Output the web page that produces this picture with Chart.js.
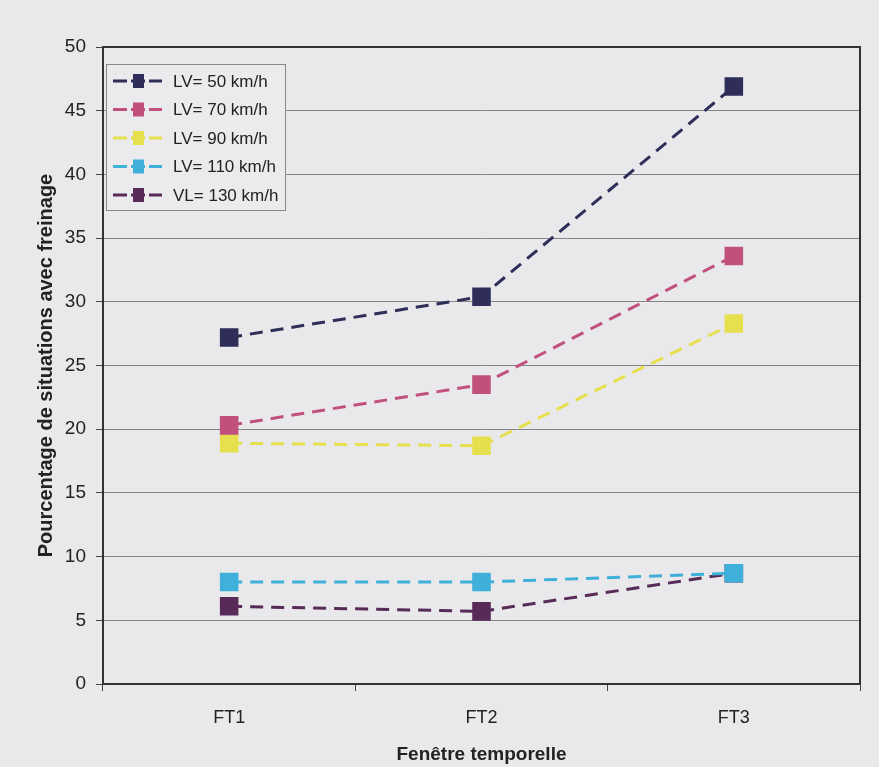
<!DOCTYPE html>
<html>
<head>
<meta charset="utf-8">
<script src="https://cdn.jsdelivr.net/npm/chart.js@4"></script>
<style>
  html, body { margin: 0; padding: 0; background: #e9e9ec; }
  #wrap { width: 879px; height: 767px; }
</style>
</head>
<body>
<div id="wrap"><canvas id="myChart"></canvas></div>
<script>
// categories and series
var windows = ["FT1", "FT2", "FT3"];
var seriesNames = ["LV= 50 km/h", "LV= 70 km/h", "LV= 90 km/h", "LV= 110 km/h", "VL= 130 km/h"];
var lv50 = [27.2, 30.4, 46.9];
var lv70 = [20.3, 23.5, 33.6];
var lv90 = [18.9, 18.7, 28.3];
var lv110 = [8.0, 8.0, 8.7];
var vl130 = [6.1, 5.7, 8.7];
var colors = ["#2e2e58", "#c2507c", "#e6df4e", "#3fb0d9", "#582a58"];
var yTicks = [0, 5, 10, 15, 20, 25, 30, 35, 40, 45, 50];

var FONT = '"Liberation Sans", Arial, sans-serif';

var allData = [lv50, lv70, lv90, lv110, vl130];
var datasets = allData.map(function (d, i) {
  return {
    label: seriesNames[i],
    data: d,
    borderColor: colors[i],
    backgroundColor: colors[i],
    borderWidth: 3,
    borderDash: [13, 8],
    pointStyle: 'rect',
    pointRadius: 11,
    pointHoverRadius: 11,
    tension: 0
  };
});

// page background + frame around the plot
var framePlugin = {
  id: 'frame',
  beforeDraw: function (chart) {
    var c = chart.ctx;
    c.save();
    c.fillStyle = '#e9e9ec';
    c.fillRect(0, 0, chart.width, chart.height);
    c.restore();
  },
  afterDraw: function (chart) {
    var c = chart.ctx, a = chart.chartArea;
    c.save();
    c.strokeStyle = '#333';
    c.lineWidth = 2;
    c.strokeRect(a.left, a.top, a.right - a.left, a.bottom - a.top);
    c.restore();
  }
};

// legend box inside the plot, top left
var boxLegend = {
  id: 'boxLegend',
  afterDraw: function (chart) {
    var c = chart.ctx, a = chart.chartArea;
    var x0 = a.left + 3, y0 = a.top + 17, w = 179, h = 146;
    c.save();
    c.fillStyle = '#ebebee';
    c.fillRect(x0, y0, w, h);
    c.strokeStyle = '#888';
    c.lineWidth = 1;
    c.strokeRect(x0 + 0.5, y0 + 0.5, w, h);
    c.font = '17px ' + FONT;
    c.textBaseline = 'middle';
    chart.data.datasets.forEach(function (ds, i) {
      var y = y0 + 17 + i * 28.5;
      c.strokeStyle = ds.borderColor;
      c.lineWidth = 3;
      c.setLineDash([14, 4]);
      c.beginPath();
      c.moveTo(x0 + 7, y);
      c.lineTo(x0 + 56, y);
      c.stroke();
      c.setLineDash([]);
      c.fillStyle = ds.backgroundColor;
      c.fillRect(x0 + 27, y - 7, 11, 14);
      c.fillStyle = '#222';
      c.fillText(ds.label, x0 + 67, y + 1);
    });
    c.restore();
  }
};

var ctx = document.getElementById("myChart").getContext('2d');
var myChart = new Chart(ctx, {
  type: 'line',
  data: { labels: windows, datasets: datasets },
  plugins: [framePlugin, boxLegend],
  options: {
    responsive: true,
    maintainAspectRatio: false,
    animation: false,
    layout: { padding: { left: 30, top: 47, right: 19, bottom: 0 } },
    plugins: {
      legend: { display: false },
      tooltip: { enabled: false }
    },
    scales: {
      x: {
        offset: true,
        grid: { offset: true, drawOnChartArea: false, drawTicks: true, tickLength: 7, color: '#444' },
        border: { display: false },
        ticks: { color: '#222', padding: 16, font: { size: 18, family: FONT } },
        title: {
          display: true, text: 'Fenêtre temporelle', color: '#222',
          padding: { top: 4, bottom: 1 },
          font: { size: 19, weight: 'bold', family: FONT }
        },
        afterFit: function (s) { s.height = 83; }
      },
      y: {
        min: 0, max: 50,
        afterBuildTicks: function (s) { s.ticks = yTicks.map(function (v) { return { value: v }; }); },
        grid: { color: '#858585', lineWidth: 1, tickLength: 7, tickColor: '#444' },
        border: { display: false },
        ticks: { color: '#222', padding: 10, font: { size: 19, family: FONT } },
        title: {
          display: true, text: 'Pourcentage de situations avec freinage', color: '#222',
          padding: { top: 4, bottom: 4 },
          font: { size: 20, weight: 'bold', family: FONT }
        },
        afterFit: function (s) { s.width = 73; }
      }
    }
  }
});
</script>
</body>
</html>
